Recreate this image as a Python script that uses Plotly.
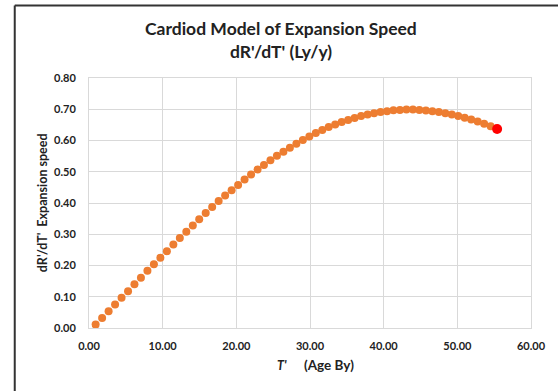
import plotly.graph_objects as go

t_vals = [0.90, 1.78, 2.66, 3.54, 4.42, 5.30, 6.17, 7.05, 7.93, 8.81,
          9.69, 10.57, 11.45, 12.33, 13.21, 14.09, 14.96, 15.84, 16.72, 17.60,
          18.48, 19.36, 20.24, 21.12, 22.00, 22.88, 23.75, 24.63, 25.51, 26.39,
          27.27, 28.15, 29.03, 29.91, 30.79, 31.67, 32.54, 33.42, 34.30, 35.18,
          36.06, 36.94, 37.82, 38.70, 39.58, 40.46, 41.33, 42.21, 43.09, 43.97,
          44.85, 45.73, 46.61, 47.49, 48.37, 49.25, 50.12, 51.00, 51.88, 52.76,
          53.64, 54.52]
speed_vals = [0.011, 0.032, 0.054, 0.075, 0.097, 0.118, 0.140, 0.161, 0.183, 0.204,
              0.225, 0.246, 0.267, 0.288, 0.308, 0.328, 0.348, 0.368, 0.387, 0.406,
              0.424, 0.441, 0.458, 0.475, 0.491, 0.507, 0.522, 0.537, 0.551, 0.564,
              0.577, 0.590, 0.602, 0.613, 0.624, 0.634, 0.643, 0.651, 0.659, 0.666,
              0.672, 0.678, 0.683, 0.687, 0.691, 0.694, 0.697, 0.698, 0.699, 0.699,
              0.698, 0.696, 0.694, 0.691, 0.687, 0.683, 0.678, 0.673, 0.667, 0.661,
              0.654, 0.646]
last_t = [55.40]
last_speed = [0.637]

x_ticks = [0, 10, 20, 30, 40, 50, 60]
y_ticks = [0, 0.1, 0.2, 0.3, 0.4, 0.5, 0.6, 0.7, 0.8]

title_lines = ["Cardiod Model of Expansion Speed", "dR'/dT' (Ly/y)"]

FONT = "Lato"
TXT = "#222222"

fig = go.Figure()
fig.add_trace(go.Scatter(x=t_vals, y=speed_vals, mode="markers",
                         marker=dict(color="#ED7D31", size=8, line=dict(width=0)),
                         showlegend=False))
fig.add_trace(go.Scatter(x=last_t, y=last_speed, mode="markers",
                         marker=dict(color="#FF0000", size=10, line=dict(width=0)),
                         showlegend=False))

fig.update_layout(
    width=558, height=391,
    margin=dict(l=89, r=25, t=78, b=63),
    paper_bgcolor="white", plot_bgcolor="white",
    font=dict(family=FONT, color=TXT),
    xaxis=dict(range=[0, 60], tickvals=x_ticks,
               ticktext=[f"<b>{v:.2f}</b>" for v in x_ticks],
               showgrid=True, gridcolor="#D9D9D9", gridwidth=1,
               showline=True, linecolor="#D9D9D9", mirror=True,
               zeroline=False, ticks="", ticklabelstandoff=8,
               tickfont=dict(family=FONT, size=11, color=TXT)),
    yaxis=dict(range=[0, 0.8], tickvals=y_ticks,
               ticktext=[f"<b>{v:.2f}</b>" for v in y_ticks],
               showgrid=True, gridcolor="#D9D9D9", gridwidth=1,
               showline=True, linecolor="#D9D9D9", mirror=True,
               zeroline=False, ticks="", ticklabelstandoff=10,
               tickfont=dict(family=FONT, size=11, color=TXT)),
)

# title lines (centered on the figure)
fig.add_annotation(text=f"<b>{title_lines[0]}</b>", xref="paper", yref="paper",
                   x=0.4347, y=1.2, xanchor="center", yanchor="middle",
                   showarrow=False, font=dict(family=FONT, size=17.5, color=TXT))
fig.add_annotation(text=f"<b>{title_lines[1]}</b>", xref="paper", yref="paper",
                   x=0.4347, y=1.104, xanchor="center", yanchor="middle",
                   showarrow=False, font=dict(family=FONT, size=17.5, color=TXT))

fig.add_annotation(text="<b>dR'/dT'  Expansion speed</b>", textangle=-90,
                   xref="paper", yref="paper", x=-0.106, y=0.5,
                   xanchor="center", yanchor="middle",
                   showarrow=False, font=dict(family=FONT, size=12.5, color=TXT))
fig.add_annotation(text="<b><i>T'</i></b>",
                   xref="paper", yref="paper", x=(283 - 89) / 444, y=-0.148,
                   xanchor="center", yanchor="middle",
                   showarrow=False, font=dict(family=FONT, size=12.5, color=TXT))
fig.add_annotation(text="<b>(Age By)</b>",
                   xref="paper", yref="paper", x=(330 - 89) / 444, y=-0.148,
                   xanchor="center", yanchor="middle",
                   showarrow=False, font=dict(family=FONT, size=13.5, color=TXT))

# chart frame (left and top edges visible)
fig.add_shape(type="line", xref="paper", yref="paper",
              x0=-0.168, x1=-0.168, y0=1.29, y1=-0.3,
              line=dict(color="#333333", width=2))
fig.add_shape(type="line", xref="paper", yref="paper",
              x0=-0.168, x1=1.2, y0=1.29, y1=1.29,
              line=dict(color="#333333", width=2))

fig.write_html("out.html")
